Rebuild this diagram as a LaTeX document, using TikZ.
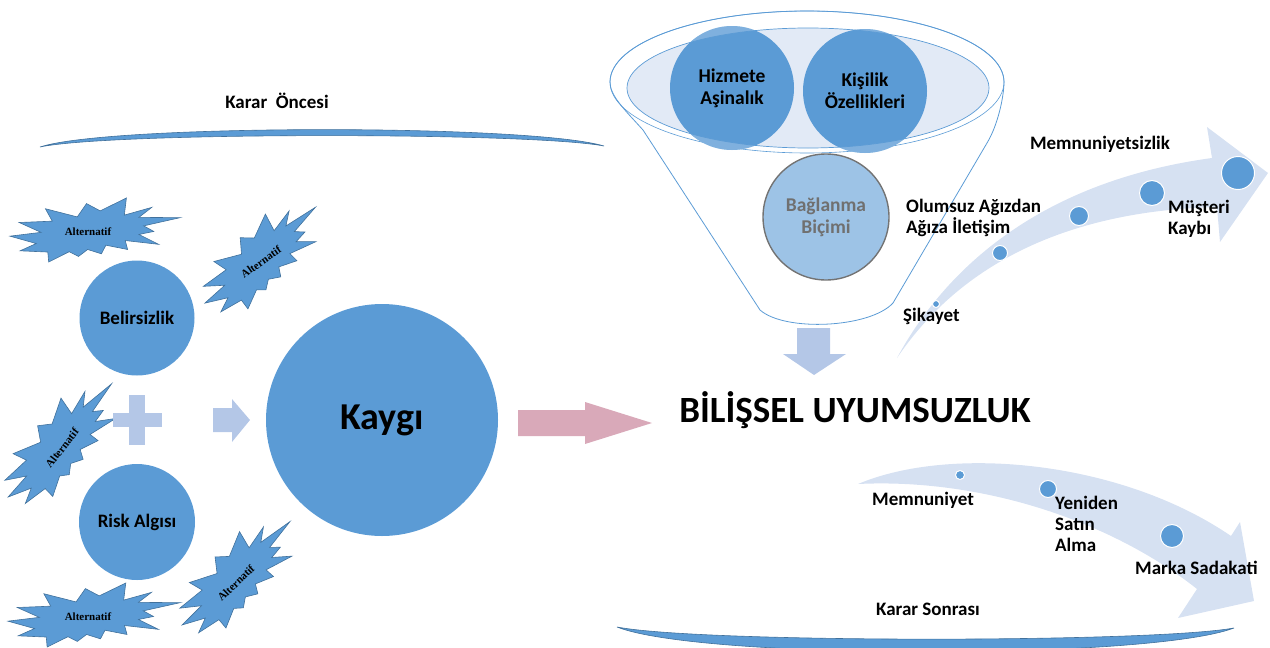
\documentclass[tikz,border=0pt]{standalone}
\usepackage{fontspec}
\setmainfont{Carlito}
\newfontfamily\altfont{Liberation Serif}
\definecolor{blueM}{RGB}{91,155,213}
\definecolor{blueD}{RGB}{65,113,156}
\definecolor{blueL}{RGB}{180,199,231}
\definecolor{bandC}{RGB}{214,225,242}
\definecolor{pinkA}{RGB}{217,169,185}
\definecolor{innerE}{RGB}{226,234,246}
\definecolor{baglC}{RGB}{157,195,230}
\definecolor{grayT}{RGB}{112,112,112}
\newcommand\altseal[5]{%
  \begin{scope}[shift={(#1,#2)}, rotate=#3, xscale=#4, yscale=#5]
    \filldraw[sealshape] (0.0306,-0.2990) -- (0.1847,-0.5) -- (0.1725,-0.2325)
      -- (0.3337,-0.3531) -- (0.2583,-0.1976) -- (0.5,-0.1924) -- (0.2863,-0.0647)
      -- (0.3458,0.0227) -- (0.2583,0.0699) -- (0.3739,0.2237) -- (0.1778,0.1644)
      -- (0.1918,0.3042) -- (0.0639,0.2377) -- (0.0376,0.3723) -- (-0.0430,0.3042)
      -- (-0.0972,0.4126) -- (-0.1515,0.3391) -- (-0.2724,0.5) -- (-0.2775,0.3444)
      -- (-0.4405,0.3252) -- (-0.3458,0.2116) -- (-0.5,0.0962) -- (-0.3178,0.0367)
      -- (-0.4457,-0.1171) -- (-0.2513,-0.1381) -- (-0.2916,-0.3322) -- (-0.1042,-0.2045)
      -- (-0.0499,-0.4126) -- cycle;
  \end{scope}}
\begin{document}
\begin{tikzpicture}[x=1pt,y=-1pt,
  lbl/.style={font=\bfseries\fontsize{19}{21}\selectfont, inner sep=0pt, align=left},
  circ/.style={circle, fill=blueM, inner sep=0pt, align=center,
    font=\bfseries\fontsize{19}{21}\selectfont},
  fcirc/.style={circle, fill=blueM, inner sep=0pt, align=center,
    font=\bfseries\fontsize{19.5}{22}\selectfont},
  dot/.style={circle, fill=blueM, draw=white, line width=1pt, inner sep=0pt},
  alttext/.style={font=\altfont\bfseries\fontsize{11}{12}\selectfont, inner sep=0pt},
  sealshape/.style={fill=blueM, draw=blueD, line width=0.6pt},
  fline/.style={draw=blueM, line width=0.8pt},
  bracket/.style={fill=blueM, draw=blueD, line width=0.6pt}]
\useasboundingbox (0,0) rectangle (1270,648);

% ---- pre-decision bracket ----
\node[lbl] (oncesi) at (277,101) {Karar~~Öncesi};
\filldraw[bracket] (40,147) .. controls (110,124) and (530,124) .. (604,146)
  .. controls (530,132) and (110,132) .. (40,147) -- cycle;

% ---- starbursts ----
\altseal{95}{230}{0}{170}{64}
\node[alttext] (alt1) at (88,232) {Alternatif};
\altseal{262}{258}{33}{145}{70}
\node[alttext, rotate=35] (alt2) at (261,262) {Alternatif};
\altseal{62}{443}{40}{152}{70}
\node[alttext, rotate=52] (alt3) at (62,448) {Alternatif};
\altseal{94}{615}{0}{172}{64}
\node[alttext] (alt4) at (88,617) {Alternatif};
\altseal{238}{576}{36}{148}{70}
\node[alttext, rotate=44] (alt5) at (236,583) {Alternatif};

% ---- left circles ----
\node[circ, minimum size=115pt] (bel) at (137,318) {Belirsizlik};
\node[circ, minimum size=116pt] (risk) at (137,522) {Risk Algısı};
\fill[blueL] (113,413) rectangle (162,427);
\fill[blueL] (129,395) rectangle (145,445);
\fill[blueL] (213,408) -- (232,408) -- (232,399) -- (250,420) -- (232,442)
  -- (232,432) -- (213,432) -- cycle;
\node[circ, minimum size=232pt, font=\bfseries\fontsize{38}{42}\selectfont]
  (kaygi) at (382,420) {Kaygı};

% ---- main arrow and central label ----
\fill[pinkA] (518,410) -- (585,410) -- (585,402) -- (652,423) -- (585,444)
  -- (585,436) -- (518,436) -- cycle;
\node[lbl, font=\bfseries\fontsize{37}{40}\selectfont] (bu) at (855,410)
  {BİLİŞSEL UYUMSUZLUK};

% ---- funnel ----
\draw[fline] (760,310) -- (643,130) .. controls (625,110) and (610,96) .. (610,82)
  arc[start angle=180, end angle=360, x radius=197, y radius=71]
  .. controls (1004,96) and (998,125) .. (987,143) -- (893,303)
  .. controls (870,328) and (785,332) .. (760,310) -- cycle;
\draw[fline, line width=0.6pt] (807,82) ellipse[x radius=197, y radius=71];
\fill[innerE] (808,88) ellipse[x radius=181, y radius=60];
\node[fcirc, minimum size=124pt] (hiz) at (732,88) {Hizmete\\Aşinalık};
\node[fcirc, minimum size=124pt] (kis) at (865,91) {Kişilik\\Özellikleri};
\begin{scope}
  \clip (732,88) circle[radius=62] (865,91) circle[radius=62];
  \fill[white, opacity=0.22, even odd rule] (600,0) rectangle (1020,170)
    (808,88) ellipse[x radius=181, y radius=60];
\end{scope}
\draw[fline, line width=0.7pt] (808,88) ellipse[x radius=181, y radius=60];
\node[circle, fill=baglC, draw=black!55, line width=1.4pt, minimum size=126pt,
  inner sep=0pt, align=center, text=grayT,
  font=\bfseries\fontsize{19.5}{22}\selectfont] (bag) at (826,217) {Bağlanma\\Biçimi};
\fill[blueL] (797,328) -- (830,328) -- (830,354) -- (846,354) -- (814,375)
  -- (783,354) -- (797,354) -- cycle;

% ---- dissatisfaction path ----
\fill[bandC] (897,358) .. controls (950,260) and (1050,180) .. (1212,158)
  -- (1207,127) -- (1268,173) -- (1220,242) -- (1217,207)
  .. controls (1090,210) and (970,250) .. (897,358) -- cycle;
\node[dot, minimum size=7pt] (d1) at (936,304) {};
\node[dot, minimum size=15pt] (d2) at (1000,253) {};
\node[dot, minimum size=19pt] (d3) at (1079,216) {};
\node[dot, minimum size=25pt] (d4) at (1152,193) {};
\node[dot, minimum size=33pt] (d5) at (1238,173) {};
\node[lbl] (memz) at (1100,144) {Memnuniyetsizlik};
\node[lbl, anchor=west] (olum) at (906,218) {Olumsuz Ağızdan\\Ağıza İletişim};
\node[lbl, anchor=west] (must) at (1168,219) {Müşteri\\Kaybı};
\node[lbl, anchor=west] (sik) at (903,316) {Şikayet};

% ---- satisfaction path ----
\fill[bandC] (858,484) .. controls (950,445) and (1120,460) .. (1231,536)
  -- (1240,522) -- (1254,601) -- (1178,618) -- (1197,589)
  .. controls (1110,520) and (980,478) .. (858,484) -- cycle;
\node[dot, minimum size=9pt] (e1) at (960,475) {};
\node[dot, minimum size=17pt] (e2) at (1048,489) {};
\node[dot, minimum size=23pt] (e3) at (1172,536) {};
\node[lbl, anchor=west] (memn) at (872,500) {Memnuniyet};
\node[lbl, anchor=north west] (yen) at (1055,496) {Yeniden\\Satın\\Alma};
\node[lbl, anchor=west] (marka) at (1135,568) {Marka Sadakati};

% ---- post-decision bracket ----
\node[lbl] (sonrasi) at (928,609) {Karar Sonrası};
\filldraw[bracket] (617,627) .. controls (700,643) and (1150,643) .. (1234,628)
  .. controls (1150,660) and (700,660) .. (617,627) -- cycle;
\end{tikzpicture}
\end{document}
